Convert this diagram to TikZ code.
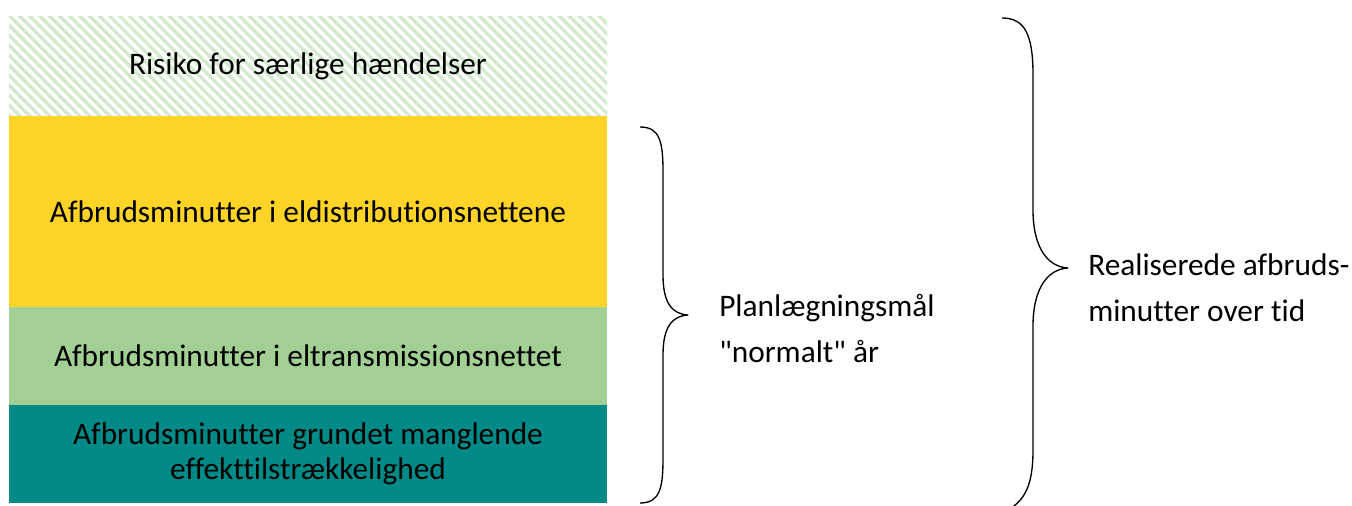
\documentclass[tikz,border=0pt]{standalone}
\usepackage{fontspec}
\setmainfont{Carlito}[Ligatures={NoCommon},RawFeature={-liga}]
\usetikzlibrary{patterns.meta,positioning}
\definecolor{hatchc}{RGB}{210,234,204}
\definecolor{yc}{RGB}{255,212,38}
\definecolor{lgc}{RGB}{162,208,148}
\definecolor{tc}{RGB}{0,138,135}
\tikzset{layer/.style={minimum width=448pt,minimum height=73.5pt,inner sep=0pt,outer sep=0pt,align=center,font=\fontsize{23.5}{26}\selectfont},
 brace/.style={line width=1pt,line join=round},
 lbl/.style={anchor=west,align=left,inner sep=0pt,font=\fontsize{23.5}{34.5}\selectfont}}
\begin{document}
\begin{tikzpicture}[x=0.75pt,y=-0.75pt]
\useasboundingbox (0,0) rectangle (1352,506);
% layers, top to bottom
\pattern[pattern={Lines[angle=-45,distance=5.3pt,line width=2.5pt]},pattern color=hatchc] (9,17) rectangle (607,116);
\node[layer,minimum height=74.25pt] (risk) at (308,66.5) {Risiko for særlige hændelser};
\node[layer,fill=yc,minimum height=143.25pt,below=0pt of risk] (dist) {Afbrudsminutter i eldistributionsnettene};
\node[layer,fill=lgc,below=0pt of dist] (trans) {Afbrudsminutter i eltransmissionsnettet};
\node[layer,fill=tc,below=0pt of trans] (eff) {Afbrudsminutter grundet manglende\\effekttilstrækkelighed};
% braces
\draw[brace] (640,127) .. controls (660,127) and (663,142) .. (663,172) -- (663,275)
 .. controls (663,303) and (672,314) .. (688,315) .. controls (672,316) and (663,327) .. (663,355)
 -- (663,458) .. controls (663,488) and (660,503) .. (640,503);
\draw[brace] (1002,18) .. controls (1025,18) and (1033,35) .. (1033,75) -- (1033,210)
 .. controls (1033,248) and (1048,267) .. (1068,268) .. controls (1048,269) and (1033,288) .. (1033,326)
 -- (1033,450) .. controls (1033,485) and (1025,500) .. (1008,510);
% labels
\node[lbl] (plan) at (719,329) {Planlægningsmål\\\textquotedbl normalt\textquotedbl{} år};
\node[lbl] (real) at (1088,288) {Realiserede afbruds-\\minutter over tid};
\end{tikzpicture}
\end{document}
